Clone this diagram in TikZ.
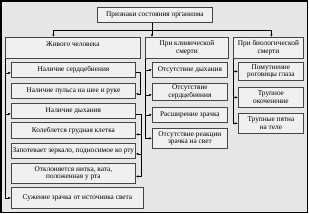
\documentclass[tikz,border=0pt]{standalone}
\usepackage{fontspec}
\setmainfont{Liberation Serif}
\usetikzlibrary{arrows.meta}
\definecolor{fon}{HTML}{E6E6E6}
\definecolor{ramka}{HTML}{454545}
\definecolor{yach}{HTML}{F0F0F0}

\begin{document}
\begin{tikzpicture}[
  x=1pt, y=-1pt,
  font=\fontsize{7.3}{7.9}\selectfont,
  box/.style={draw=ramka, fill=yach, line width=.8pt, align=center, inner sep=1pt, anchor=north west},
  head/.style={box, minimum height=21pt},
  li/.style={box, minimum width=124pt, minimum height=15pt},
  mi/.style={box, minimum width=75pt, minimum height=15pt},
  ri/.style={box, minimum width=65pt, minimum height=20pt},
  >={Latex[length=2.6pt,width=2.4pt]}, line width=.7pt
]
\useasboundingbox (0,0) rectangle (309,214);
\draw[line width=1.6pt, fill=fon] (1,1) rectangle (307.5,212.5);
\node[box, minimum width=115pt, minimum height=15pt] (prizn) at (97,7) {Признаки состояния организма};
\node[head, minimum width=135pt] (zhiv) at (5,37) {Живого человека\\ \mbox{}};
\node[head, minimum width=83pt] (klin) at (145,37) {При клинической\\смерти};
\node[head, minimum width=70pt] (biol) at (233,37) {При биологической\\смерти};
\node[li] (serd) at (11,62) {Наличие сердцебиения};
\node[li] (puls) at (11,83) {Наличие пульса на шее и руке};
\node[li] (dyh) at (11,103) {Наличие дыхания};
\node[li, minimum height=16pt] (grud) at (11,122) {Колеблется грудная клетка};
\node[li] (zerk) at (11,143) {Запотевает зеркало, подносимое ко рту};
\node[li, minimum height=20pt] (vata) at (11,163) {Отклоняется нитка, вата,\\положенная у рта};
\node[li, minimum width=132pt, minimum height=21pt] (suzh) at (11,187) {Сужение зрачка от источника света};
\node[mi] (otdyh) at (152,62) {Отсутствие дыхания};
\node[mi, minimum height=17pt] (otserd) at (152,83) {Отсутствие\\сердцебиения};
\node[mi] (rassh) at (152,107) {Расширение зрачка};
\node[mi, minimum height=20pt] (otreak) at (152,128) {Отсутствие реакции\\зрачка на свет};
\node[ri, minimum height=18pt] (pomut) at (238,62) {Помутнение\\роговицы глаза};
\node[ri] (okoch) at (238,87) {Трупное\\окоченение};
\node[ri] (pyatna) at (238,113) {Трупные пятна\\на теле};
\coordinate (shina) at (152,30);
\draw (prizn.south -| shina) -- (shina);
\draw[->] (shina) -| ([xshift=-19.5pt]zhiv.north);
\draw[->] (shina) -- (klin.north -| shina);
\draw[->] (shina) -| ([xshift=3pt]biol.north);
\draw[->] (zhiv.south west) |- ([yshift=-3pt]serd.west);
\draw[->] (zhiv.south west) |- ([yshift=-3pt]dyh.west);
\draw[->] (zhiv.south west) |- (suzh.west);
\draw[->] ([yshift=-2pt]serd.east) -- ++(5,0) |- ([yshift=-3pt]puls.east);
\draw[->] ([yshift=-3pt]dyh.east) -- ++(6,0) |- ([yshift=-4pt]grud.east);
\draw[->] ([yshift=-3pt]dyh.east) -- ++(6,0) |- ([yshift=-3pt]zerk.east);
\draw[->] ([yshift=-3pt]dyh.east) -- ++(6,0) |- ([yshift=-3pt]vata.east);
\draw[->] (klin.south west) |- (otdyh.west);
\draw[->] (klin.south west) |- ([yshift=-3pt]otserd.west);
\draw[->] (klin.south west) |- (rassh.west);
\draw[->] (klin.south west) |- (otreak.west);
\draw[->] (biol.south west) |- (pomut.west);
\draw[->] (biol.south west) |- (okoch.west);
\draw[->] (biol.south west) |- (pyatna.west);
\end{tikzpicture}
\end{document}
